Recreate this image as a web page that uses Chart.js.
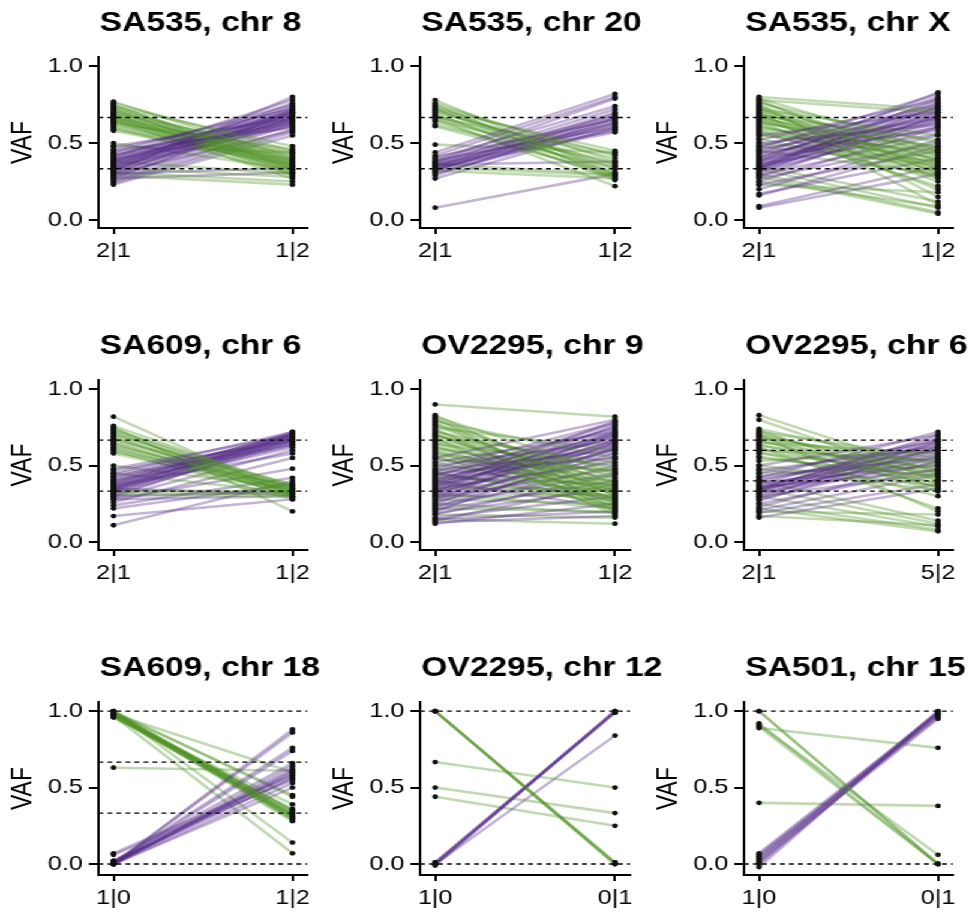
<!DOCTYPE html>
<html><head><meta charset="utf-8">
<script src="https://cdn.jsdelivr.net/npm/chart.js@4.4.1/dist/chart.umd.min.js"></script>
<style>
html,body{margin:0;padding:0;background:#fff;overflow:hidden;width:973px;height:915px}
#wrap{position:absolute;left:0;top:0;width:811px;height:915px;transform:scaleX(1.2);transform-origin:0 0}
.panel{position:absolute}
.panel canvas{display:block}
</style></head><body><div id="wrap"></div>
<script>
// ---------- DATA (VAF values) ----------
const titles = ['SA535, chr 8','SA535, chr 20','SA535, chr X','SA609, chr 6','OV2295, chr 9','OV2295, chr 6','SA609, chr 18','OV2295, chr 12','SA501, chr 15'];
const xLabels = [['2|1','1|2'],['2|1','1|2'],['2|1','1|2'],['2|1','1|2'],['2|1','1|2'],['2|1','5|2'],['1|0','1|2'],['1|0','0|1'],['1|0','0|1']];
const yTicks = [0, 0.5, 1];
const refLines = [[1/3,2/3],[1/3,2/3],[1/3,2/3],[1/3,2/3],[1/3,2/3],[1/3,0.4,0.6,2/3],[0,1/3,2/3,1],[0,1],[0,1]];

// SA535 chr 8
const sa535_8_greenL = [0.77,0.76,0.75,0.74,0.74,0.73,0.72,0.72,0.71,0.70,0.70,0.69,0.69,0.68,0.68,0.67,0.67,0.66,0.66,0.65,0.65,0.64,0.64,0.63,0.63,0.62,0.61,0.60,0.59,0.58,0.50,0.48,0.38,0.34,0.31,0.29];
const sa535_8_greenR = [0.40,0.45,0.33,0.38,0.48,0.36,0.42,0.31,0.35,0.44,0.39,0.30,0.37,0.41,0.34,0.36,0.29,0.43,0.33,0.38,0.27,0.35,0.40,0.32,0.46,0.37,0.34,0.30,0.39,0.36,0.33,0.44,0.30,0.28,0.25,0.23];
const sa535_8_purpleL = [0.48,0.46,0.45,0.44,0.43,0.42,0.42,0.41,0.40,0.40,0.39,0.39,0.38,0.38,0.37,0.37,0.36,0.36,0.35,0.35,0.34,0.34,0.33,0.33,0.32,0.32,0.31,0.30,0.30,0.29,0.28,0.27,0.26,0.25,0.24,0.23,0.30,0.27];
const sa535_8_purpleR = [0.66,0.72,0.60,0.75,0.68,0.63,0.70,0.78,0.65,0.73,0.69,0.62,0.71,0.67,0.74,0.64,0.70,0.66,0.76,0.61,0.68,0.72,0.65,0.69,0.63,0.80,0.67,0.71,0.58,0.66,0.64,0.70,0.62,0.59,0.57,0.55,0.34,0.31];

// SA535 chr 20
const sa535_20_greenL = [0.78,0.76,0.75,0.74,0.73,0.72,0.72,0.71,0.70,0.69,0.68,0.67,0.67,0.66,0.65,0.64,0.62,0.61,0.49,0.36,0.34,0.32];
const sa535_20_greenR = [0.30,0.38,0.27,0.42,0.33,0.45,0.29,0.36,0.40,0.26,0.35,0.43,0.31,0.22,0.37,0.28,0.34,0.30,0.44,0.30,0.29,0.27];
const sa535_20_purpleL = [0.44,0.42,0.41,0.40,0.39,0.38,0.38,0.37,0.37,0.36,0.36,0.35,0.35,0.34,0.34,0.33,0.33,0.32,0.31,0.30,0.29,0.27,0.08,0.36];
const sa535_20_purpleR = [0.82,0.80,0.65,0.74,0.60,0.68,0.79,0.63,0.72,0.66,0.58,0.70,0.62,0.67,0.57,0.64,0.61,0.69,0.59,0.63,0.66,0.60,0.30,0.38];

// SA535 chr X
const sa535_X_greenL = [0.80,0.79,0.78,0.78,0.77,0.76,0.75,0.74,0.73,0.72,0.72,0.71,0.70,0.70,0.69,0.68,0.68,0.67,0.66,0.66,0.65,0.64,0.64,0.63,0.62,0.61,0.60,0.59,0.58,0.57,0.56,0.55,0.53,0.50,0.48,0.45,0.35,0.33,0.30,0.28,0.25,0.23];
const sa535_X_greenR = [0.72,0.45,0.70,0.30,0.38,0.50,0.15,0.42,0.33,0.55,0.27,0.47,0.36,0.10,0.44,0.31,0.52,0.39,0.25,0.46,0.35,0.20,0.41,0.48,0.29,0.37,0.43,0.34,0.22,0.40,0.32,0.45,0.28,0.38,0.36,0.30,0.12,0.08,0.05,0.04,0.09,0.18];
const sa535_X_purpleL = [0.55,0.52,0.50,0.48,0.47,0.46,0.45,0.44,0.43,0.42,0.41,0.40,0.40,0.39,0.38,0.38,0.37,0.36,0.36,0.35,0.35,0.34,0.34,0.33,0.33,0.32,0.31,0.30,0.29,0.28,0.27,0.25,0.23,0.20,0.17,0.16,0.09,0.08];
const sa535_X_purpleR = [0.70,0.78,0.62,0.75,0.82,0.66,0.72,0.58,0.80,0.68,0.74,0.64,0.77,0.60,0.70,0.83,0.66,0.73,0.56,0.69,0.76,0.63,0.71,0.67,0.79,0.61,0.74,0.65,0.55,0.68,0.50,0.60,0.45,0.52,0.40,0.48,0.35,0.30];

// SA609 chr 6
const sa609_6_greenL = [0.82,0.76,0.75,0.74,0.73,0.72,0.71,0.70,0.69,0.68,0.67,0.66,0.65,0.64,0.63,0.62,0.61,0.60,0.59,0.58,0.50,0.45,0.34,0.33,0.31];
const sa609_6_greenR = [0.30,0.35,0.20,0.33,0.37,0.31,0.34,0.36,0.29,0.32,0.38,0.35,0.30,0.33,0.36,0.31,0.34,0.28,0.37,0.33,0.35,0.32,0.33,0.31,0.30];
const sa609_6_purpleL = [0.48,0.47,0.45,0.44,0.43,0.42,0.41,0.40,0.40,0.39,0.38,0.38,0.37,0.37,0.36,0.36,0.35,0.35,0.34,0.34,0.33,0.32,0.31,0.30,0.29,0.28,0.26,0.24,0.22,0.17,0.11,0.30,0.35,0.28];
const sa609_6_purpleR = [0.70,0.66,0.72,0.68,0.64,0.70,0.67,0.71,0.63,0.69,0.66,0.72,0.58,0.68,0.70,0.65,0.71,0.62,0.67,0.69,0.64,0.70,0.66,0.68,0.60,0.48,0.55,0.42,0.38,0.28,0.40,0.33,0.31,0.30];

// OV2295 chr 9
const ov2295_9_greenL = [0.90,0.83,0.82,0.81,0.80,0.79,0.78,0.77,0.76,0.75,0.74,0.73,0.72,0.71,0.70,0.70,0.69,0.68,0.67,0.66,0.65,0.64,0.63,0.62,0.61,0.60,0.59,0.58,0.57,0.56,0.55,0.54,0.52,0.50,0.48,0.46,0.44,0.42,0.40,0.38,0.35,0.32,0.30,0.28,0.25,0.22,0.18,0.15];
const ov2295_9_greenR = [0.82,0.30,0.45,0.22,0.38,0.55,0.27,0.42,0.33,0.60,0.20,0.36,0.48,0.25,0.40,0.31,0.52,0.18,0.44,0.35,0.28,0.50,0.23,0.39,0.46,0.32,0.26,0.42,0.37,0.21,0.34,0.47,0.29,0.40,0.36,0.24,0.33,0.38,0.30,0.27,0.35,0.22,0.31,0.25,0.19,0.20,0.16,0.12];
const ov2295_9_purpleL = [0.55,0.52,0.50,0.48,0.47,0.46,0.45,0.44,0.43,0.42,0.41,0.40,0.40,0.39,0.38,0.37,0.37,0.36,0.35,0.35,0.34,0.33,0.33,0.32,0.31,0.30,0.30,0.29,0.28,0.27,0.26,0.25,0.24,0.23,0.22,0.21,0.20,0.19,0.18,0.16,0.15,0.14,0.13,0.12,0.45,0.40];
const ov2295_9_purpleR = [0.80,0.72,0.66,0.78,0.60,0.74,0.55,0.70,0.77,0.63,0.68,0.75,0.58,0.71,0.65,0.79,0.62,0.69,0.52,0.73,0.66,0.60,0.76,0.64,0.70,0.56,0.67,0.48,0.72,0.61,0.54,0.65,0.45,0.58,0.50,0.40,0.62,0.35,0.44,0.30,0.20,0.38,0.17,0.25,0.28,0.22];

// OV2295 chr 6
const ov2295_6_greenL = [0.83,0.80,0.74,0.73,0.72,0.71,0.70,0.70,0.69,0.68,0.67,0.66,0.65,0.64,0.63,0.62,0.61,0.60,0.59,0.58,0.56,0.55,0.53,0.50,0.48,0.45,0.40,0.35,0.30,0.25,0.22,0.20,0.17];
const ov2295_6_greenR = [0.45,0.40,0.50,0.35,0.55,0.42,0.20,0.47,0.38,0.52,0.33,0.44,0.58,0.36,0.48,0.22,0.41,0.53,0.30,0.46,0.39,0.43,0.60,0.37,0.34,0.50,0.14,0.12,0.10,0.08,0.07,0.18,0.11];
const ov2295_6_purpleL = [0.50,0.47,0.45,0.43,0.42,0.41,0.40,0.39,0.38,0.37,0.36,0.36,0.35,0.35,0.34,0.34,0.33,0.33,0.32,0.31,0.30,0.29,0.28,0.27,0.25,0.23,0.21,0.19,0.16];
const ov2295_6_purpleR = [0.70,0.62,0.66,0.55,0.72,0.60,0.64,0.50,0.68,0.58,0.63,0.47,0.67,0.54,0.61,0.70,0.57,0.65,0.52,0.60,0.45,0.66,0.56,0.62,0.48,0.53,0.44,0.38,0.35];

// SA609 chr 18
const sa609_18_greenL = [1.00,1.00,0.99,0.99,0.99,0.98,0.98,0.98,0.97,0.97,0.97,0.96,0.96,1.00,0.99,0.98,0.97,1.00,0.99,0.98,0.63];
const sa609_18_greenR = [0.30,0.33,0.31,0.35,0.29,0.32,0.28,0.34,0.31,0.36,0.30,0.33,0.39,0.44,0.45,0.60,0.07,0.14,0.32,0.35,0.61];
const sa609_18_purpleL = [0.00,0.00,0.01,0.00,0.02,0.00,0.01,0.00,0.07,0.06,0.00,0.01,0.00,0.02,0.00,0.01];
const sa609_18_purpleR = [0.88,0.86,0.76,0.74,0.66,0.64,0.62,0.60,0.58,0.55,0.53,0.57,0.61,0.59,0.50,0.56];

// OV2295 chr 12
const ov2295_12_greenL = [1.00,1.00,1.00,1.00,0.667,0.50,0.44];
const ov2295_12_greenR = [0.00,0.01,0.00,0.01,0.50,0.333,0.25];
const ov2295_12_purpleL = [0.00,0.01,-0.01,0.00,0.01,0.00];
const ov2295_12_purpleR = [1.00,0.99,1.00,0.99,1.00,0.84];

// SA501 chr 15
const sa501_15_greenL = [1.00,1.00,0.92,0.91,0.90,0.89,0.40];
const sa501_15_greenR = [0.00,0.00,0.00,0.06,0.00,0.76,0.38];
const sa501_15_purpleL = [0.07,0.06,0.05,0.04,0.03,0.02,0.01,0.00,-0.02];
const sa501_15_purpleR = [0.99,0.98,0.97,0.96,1.00,0.95,0.99,0.98,1.00];

const panelData = [
  [sa535_8_greenL, sa535_8_greenR, sa535_8_purpleL, sa535_8_purpleR],
  [sa535_20_greenL, sa535_20_greenR, sa535_20_purpleL, sa535_20_purpleR],
  [sa535_X_greenL, sa535_X_greenR, sa535_X_purpleL, sa535_X_purpleR],
  [sa609_6_greenL, sa609_6_greenR, sa609_6_purpleL, sa609_6_purpleR],
  [ov2295_9_greenL, ov2295_9_greenR, ov2295_9_purpleL, ov2295_9_purpleR],
  [ov2295_6_greenL, ov2295_6_greenR, ov2295_6_purpleL, ov2295_6_purpleR],
  [sa609_18_greenL, sa609_18_greenR, sa609_18_purpleL, sa609_18_purpleR],
  [ov2295_12_greenL, ov2295_12_greenR, ov2295_12_purpleL, ov2295_12_purpleR],
  [sa501_15_greenL, sa501_15_greenR, sa501_15_purpleL, sa501_15_purpleR]
];

// ---------- LAYOUT / STYLE ----------
const SX = 1.2;
const colLeft = [98, 420, 744], colRight = [307, 630, 953];
const rowTop = [57, 380, 702], rowBottom = [228, 550, 875];
const titleGap = [26, 26, 26];
const yMinRow = [-0.052, -0.052, -0.072], yMaxAll = 1.06;
const xMin = -0.084, xMax = 1.084;
const YW = 80, TP = 55, RP = 40, XB = 45;
const GREEN = 'rgba(77,146,33,0.35)', PURPLE = 'rgba(84,39,136,0.35)';
const FONT = '"Liberation Sans", Arial, Helvetica, sans-serif';
Chart.defaults.font.family = FONT;
Chart.defaults.color = '#000';

const panelTitle = {
  id: 'panelTitle',
  afterDraw(chart, args, opts) {
    const {ctx, chartArea} = chart;
    ctx.save();
    ctx.font = 'bold 28px ' + FONT;
    ctx.fillStyle = '#000';
    ctx.textAlign = 'left';
    ctx.textBaseline = 'alphabetic';
    ctx.fillText(opts.text, chartArea.left + 1, chartArea.top - opts.gap);
    ctx.restore();
  }
};

const wrap = document.getElementById('wrap');
titles.forEach((title, i) => {
  const r = Math.floor(i / 3), c = i % 3;
  const pl = colLeft[c] / SX, pr = colRight[c] / SX, pw = pr - pl;
  const top = rowTop[r], ph = rowBottom[r] - rowTop[r];
  const div = document.createElement('div');
  div.className = 'panel';
  div.style.left = (pl - YW) + 'px';
  div.style.top = (top - TP) + 'px';
  div.style.width = (YW + pw + RP) + 'px';
  div.style.height = (TP + ph + XB) + 'px';
  const cv = document.createElement('canvas');
  div.appendChild(cv);
  wrap.appendChild(div);

  const [gL, gR, pL, pR] = panelData[i];
  const datasets = [];
  const pts = [];
  gL.forEach((v, k) => { pts.push({x: 0, y: v}); pts.push({x: 1, y: gR[k]}); });
  pL.forEach((v, k) => { pts.push({x: 0, y: v}); pts.push({x: 1, y: pR[k]}); });
  datasets.push({type: 'line', data: pts, showLine: false, pointRadius: 2.4, pointBackgroundColor: '#111', pointBorderWidth: 0, order: 0});
  refLines[i].forEach(h => datasets.push({type: 'line', data: [{x: xMin, y: h}, {x: xMax, y: h}], borderColor: '#000', borderWidth: 1.3, borderDash: [4, 3.5], pointRadius: 0, order: 1}));
  const n = Math.max(gL.length, pL.length);
  for (let k = 0; k < n; k++) {
    if (k < gL.length) datasets.push({type: 'line', data: [{x: 0, y: gL[k]}, {x: 1, y: gR[k]}], borderColor: GREEN, borderWidth: 2.6, pointRadius: 0, order: 2});
    if (k < pL.length) datasets.push({type: 'line', data: [{x: 0, y: pL[k]}, {x: 1, y: pR[k]}], borderColor: PURPLE, borderWidth: 2.6, pointRadius: 0, order: 2});
  }
  const labs = xLabels[i];
  new Chart(cv, {
    type: 'line',
    data: {datasets},
    options: {
      responsive: true, maintainAspectRatio: false, animation: false, events: [],
      layout: {padding: {left: 0, top: TP, right: RP, bottom: 0}},
      plugins: {legend: {display: false}, tooltip: {enabled: false}, title: {display: false},
        panelTitle: {text: title, gap: titleGap[r]}},
      scales: {
        x: {
          type: 'linear', min: xMin, max: xMax,
          afterFit: s => { s.height = XB; },
          afterBuildTicks: s => { s.ticks = [{value: 0}, {value: 1}]; },
          ticks: {callback: (v, idx) => labs[idx], font: {size: 21}, color: '#000', padding: 5, maxRotation: 0, autoSkip: false},
          grid: {display: true, drawOnChartArea: false, drawTicks: true, tickLength: 6, color: '#000', lineWidth: 2},
          border: {display: true, color: '#000', width: 2}
        },
        y: {
          type: 'linear', min: yMinRow[r], max: yMaxAll,
          afterFit: s => { s.width = YW; },
          afterBuildTicks: s => { s.ticks = yTicks.map(v => ({value: v})); },
          ticks: {callback: v => Number(v).toFixed(1), font: {size: 21}, color: '#000', padding: 5, autoSkip: false},
          title: {display: true, text: 'VAF', font: {size: 23}, color: '#000', padding: {top: 4, bottom: 0}},
          grid: {display: true, drawOnChartArea: false, drawTicks: true, tickLength: 8, color: '#000', lineWidth: 2},
          border: {display: true, color: '#000', width: 2}
        }
      }
    },
    plugins: [panelTitle]
  });
});
</script>
</body></html>
